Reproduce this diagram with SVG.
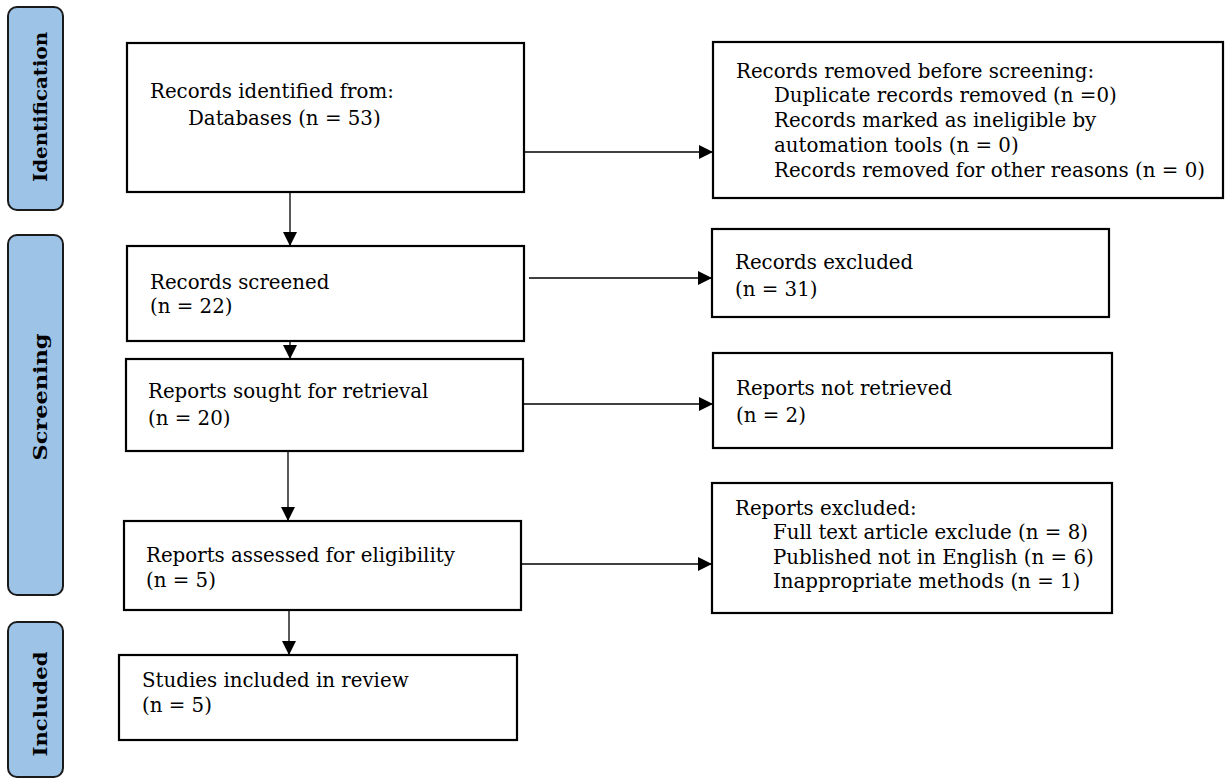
<svg xmlns="http://www.w3.org/2000/svg" width="1225" height="778" viewBox="0 0 1225 778">
<style>
.box{fill:#fff;stroke:#000;stroke-width:2.2}
.lane{fill:#9DC3E6;stroke:#1a1a1a;stroke-width:2}
.t{font-family:"DejaVu Serif","Liberation Serif",serif;font-size:19.8px;fill:#000}
.lt{font-family:"DejaVu Serif","Liberation Serif",serif;font-size:19px;font-weight:bold;fill:#000}
.c{stroke:#000;stroke-width:1.3;fill:none;marker-end:url(#ah)}
</style>
<defs>
<marker id="ah" viewBox="0 0 10 10" refX="10" refY="5" markerWidth="14" markerHeight="14" markerUnits="userSpaceOnUse" orient="auto">
<path d="M0,0 L10,5 L0,10 z" fill="#000"/>
</marker>
</defs>
<rect width="1225" height="778" fill="#fff"/>
<g id="lane-identification">
<rect class="lane" x="8" y="7" width="55" height="203" rx="9"/>
<text class="lt" transform="translate(47,107) rotate(-90)" text-anchor="middle" textLength="150" lengthAdjust="spacingAndGlyphs">Identification</text>
</g>
<g id="lane-screening">
<rect class="lane" x="8" y="235" width="55" height="360" rx="9"/>
<text class="lt" transform="translate(47,397) rotate(-90)" text-anchor="middle" textLength="127" lengthAdjust="spacingAndGlyphs">Screening</text>
</g>
<g id="lane-included">
<rect class="lane" x="8" y="622" width="55" height="155" rx="9"/>
<text class="lt" transform="translate(47,704) rotate(-90)" text-anchor="middle" textLength="105" lengthAdjust="spacingAndGlyphs">Included</text>
</g>
<g id="connectors">
<line class="c" x1="290" y1="192" x2="290" y2="246"/>
<line class="c" x1="290" y1="341" x2="290" y2="359"/>
<line class="c" x1="288" y1="451" x2="288" y2="521"/>
<line class="c" x1="289" y1="610" x2="289" y2="655"/>
<line class="c" x1="524" y1="152" x2="713" y2="152"/>
<line class="c" x1="529" y1="278" x2="712" y2="278"/>
<line class="c" x1="523" y1="404" x2="713" y2="404"/>
<line class="c" x1="521" y1="564" x2="712" y2="564"/>
</g>
<g id="identified">
<rect class="box" x="127" y="43" width="397" height="149"/>
<text class="t" x="150" y="98">Records identified from:</text>
<text class="t" x="188" y="125">Databases (n = 53)</text>
</g>
<g id="removed">
<rect class="box" x="713" y="42" width="510" height="156"/>
<text class="t" x="736" y="78">Records removed before screening:</text>
<text class="t" x="774" y="102">Duplicate records removed (n =0)</text>
<text class="t" x="774" y="127">Records marked as ineligible by</text>
<text class="t" x="774" y="152">automation tools (n = 0)</text>
<text class="t" x="774" y="177">Records removed for other reasons (n = 0)</text>
</g>
<g id="screened">
<rect class="box" x="127" y="246" width="397" height="95"/>
<text class="t" x="150" y="289">Records screened</text>
<text class="t" x="150" y="313">(n = 22)</text>
</g>
<g id="excluded">
<rect class="box" x="712" y="229" width="397" height="88"/>
<text class="t" x="735" y="269">Records excluded</text>
<text class="t" x="735" y="296">(n = 31)</text>
</g>
<g id="sought">
<rect class="box" x="126" y="359" width="397" height="92"/>
<text class="t" x="148" y="398">Reports sought for retrieval</text>
<text class="t" x="148" y="425">(n = 20)</text>
</g>
<g id="not-retrieved">
<rect class="box" x="713" y="353" width="399" height="95"/>
<text class="t" x="736" y="395">Reports not retrieved</text>
<text class="t" x="736" y="422">(n = 2)</text>
</g>
<g id="assessed">
<rect class="box" x="124" y="521" width="397" height="89"/>
<text class="t" x="146" y="562">Reports assessed for eligibility</text>
<text class="t" x="146" y="587">(n = 5)</text>
</g>
<g id="reports-excluded">
<rect class="box" x="712" y="483" width="400" height="130"/>
<text class="t" x="735" y="515">Reports excluded:</text>
<text class="t" x="773" y="539">Full text article exclude (n = 8)</text>
<text class="t" x="773" y="564">Published not in English (n = 6)</text>
<text class="t" x="773" y="588">Inappropriate methods (n = 1)</text>
</g>
<g id="included">
<rect class="box" x="119" y="655" width="398" height="85"/>
<text class="t" x="142" y="687">Studies included in review</text>
<text class="t" x="142" y="712">(n = 5)</text>
</g>
</svg>
